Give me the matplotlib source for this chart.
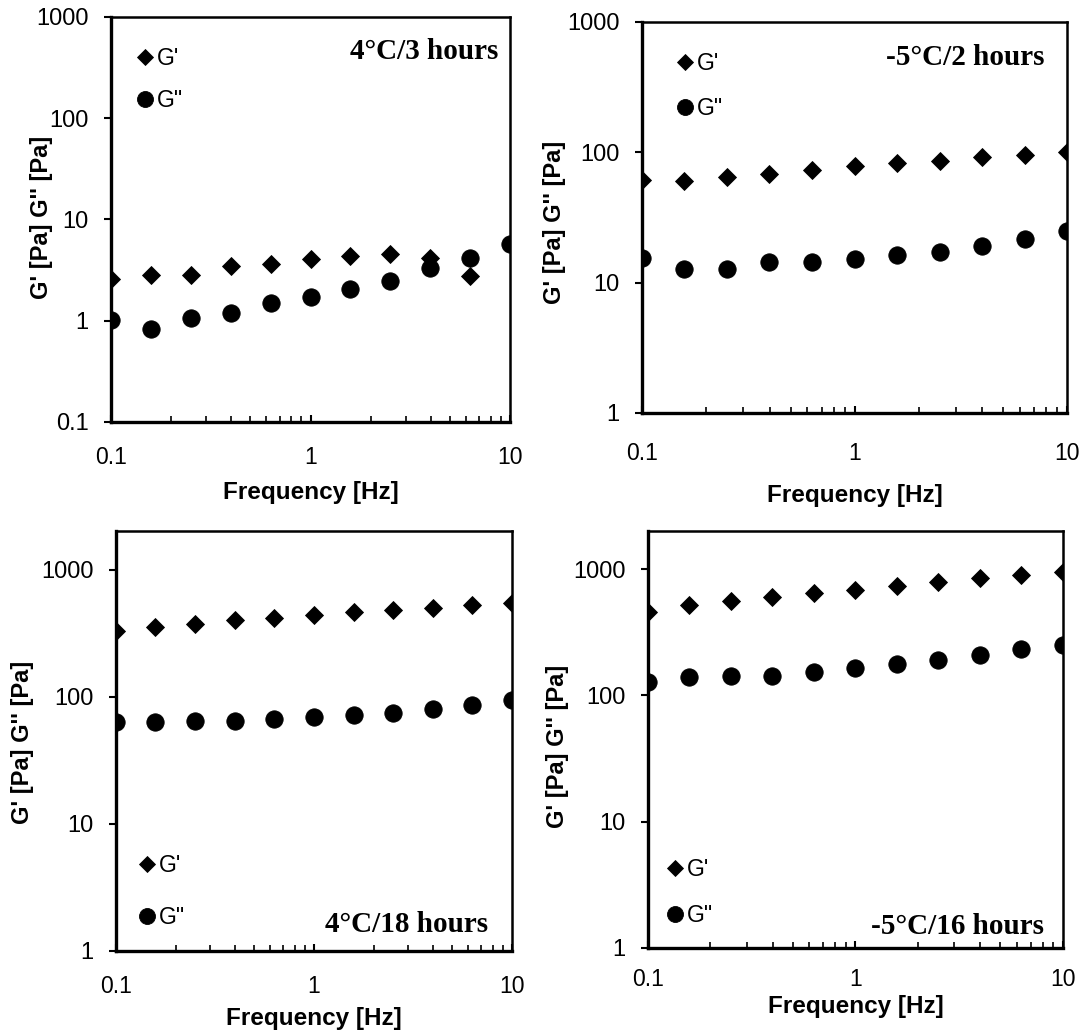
import numpy as np
import matplotlib
matplotlib.use("Agg")
import matplotlib.pyplot as plt
from matplotlib.ticker import FixedLocator, FixedFormatter, LogLocator, NullFormatter

# frequency sweep, 5 points per decade
freq = [0.1, 0.158, 0.251, 0.398, 0.631, 1.0, 1.585, 2.512, 3.981, 6.31, 10.0]

# 4C / 3 hours
g1_storage = [2.59, 2.80, 2.86, 3.47, 3.66, 4.10, 4.32, 4.53, 4.2, 2.74, np.nan]
g1_loss = [1.02, 0.83, 1.06, 1.19, 1.49, 1.73, 2.06, 2.46, 3.31, 4.16, 5.78]

# -5C / 2 hours
g2_storage = [61, 60, 64.6, 68.4, 73.4, 77.8, 82.5, 86.4, 91.6, 96, 100]
g2_loss = [15.4, 12.8, 12.8, 14.4, 14.4, 15.3, 16.3, 17.3, 19.2, 21.6, 25.1]

# 4C / 18 hours
g3_storage = [330, 351, 375, 399, 417, 438, 463, 477, 501, 527, 543]
g3_loss = [63.6, 62.8, 64.4, 64.4, 67.2, 68.9, 71.9, 74.2, 79.4, 86.5, 93.7]

# -5C / 16 hours
g4_storage = [459, 520, 564, 608, 647, 693, 738, 794, 856, 910, 957]
g4_loss = [129, 139, 143.5, 143.5, 153, 164, 178, 190, 208, 232, 251]

titles = ["4°C/3 hours", "-5°C/2 hours", "4°C/18 hours", "-5°C/16 hours"]
ylims = [(0.1, 1000), (1, 1000), (1, 2000), (1, 2000)]
yticks = [[0.1, 1, 10, 100, 1000], [1, 10, 100, 1000], [1, 10, 100, 1000], [1, 10, 100, 1000]]
ytick_labels = [["0.1", "1", "10", "100", "1000"], ["1", "10", "100", "1000"],
                ["1", "10", "100", "1000"], ["1", "10", "100", "1000"]]

storage = [g1_storage, g2_storage, g3_storage, g4_storage]
loss = [g1_loss, g2_loss, g3_loss, g4_loss]

# layout per panel
boxes = [[0.1027, 0.5923, 0.3691, 0.3913],
         [0.5939, 0.6010, 0.3932, 0.3778],
         [0.1073, 0.0812, 0.3663, 0.4054],
         [0.5994, 0.0844, 0.3839, 0.4021]]
legend_anchor = [(0.066, 0.846), (0.083, 0.836), (0.058, 0.141), (0.046, 0.132)]
legend_gap = [0.85, 0.98, 1.25, 1.0]
title_xy = [(0.972, 0.914), (0.946, 0.910), (0.939, 0.062), (0.954, 0.051)]
ylabel_x = [-0.175, -0.207, -0.236, -0.219]
ylabel_y = [0.506, 0.487, 0.498, 0.484]
xlabel_y = [-0.175, -0.21, -0.160, -0.142]
xtick_pad = [17, 21, 17, 15]

plt.rcParams['font.family'] = ['Liberation Sans', 'DejaVu Sans']

fig = plt.figure(figsize=(10.81, 10.35), dpi=100)

for i in range(4):
    ax = fig.add_axes(boxes[i])
    ax.plot(freq, storage[i], linestyle='none', marker='D', markersize=9.5,
            markeredgewidth=0.6, color='black', label="G'")
    ax.plot(freq, loss[i], linestyle='none', marker='o', markersize=12.5,
            markeredgewidth=0.6, color='black', label='G"')
    ax.set_xscale('log')
    ax.set_yscale('log')
    ax.set_xlim(0.1, 10)
    ax.set_ylim(*ylims[i])

    ax.xaxis.set_major_locator(FixedLocator([0.1, 1, 10]))
    ax.xaxis.set_major_formatter(FixedFormatter(["0.1", "1", "10"]))
    ax.xaxis.set_minor_locator(LogLocator(base=10, subs=np.arange(2, 10)))
    ax.xaxis.set_minor_formatter(NullFormatter())
    ax.yaxis.set_major_locator(FixedLocator(yticks[i]))
    ax.yaxis.set_major_formatter(FixedFormatter(ytick_labels[i]))
    ax.yaxis.set_minor_locator(FixedLocator([]))

    ax.tick_params(axis='x', which='major', direction='in', length=5, width=1.5,
                   labelsize=16.5, pad=xtick_pad[i])
    ax.tick_params(axis='x', which='minor', direction='in', length=4, width=1.2)
    ax.tick_params(axis='y', which='major', direction='out', length=5, width=1.5,
                   labelsize=17, pad=11)
    for side in ['left', 'bottom']:
        ax.spines[side].set_linewidth(2.4)
    for side in ['top', 'right']:
        ax.spines[side].set_linewidth(1.8)

    ax.set_xlabel("Frequency [Hz]", fontsize=17.5, fontweight='bold')
    ax.xaxis.set_label_coords(0.5, xlabel_y[i])
    ax.xaxis.label.set_va('center')
    ax.set_ylabel("G' [Pa] G'' [Pa]", fontsize=17, fontweight='bold')
    ax.yaxis.set_label_coords(ylabel_x[i], ylabel_y[i])
    ax.yaxis.label.set_va('center')

    leg = ax.legend(loc='center left', bbox_to_anchor=legend_anchor[i], frameon=False,
                    fontsize=16.5, handlelength=0.7, handletextpad=0.15,
                    labelspacing=legend_gap[i], borderpad=0, borderaxespad=0)
    leg.legend_handles[0].set_markersize(8.5)
    leg.legend_handles[1].set_markersize(11.5)

    tx, ty = title_xy[i]
    ax.text(tx, ty, titles[i], transform=ax.transAxes, ha='right', va='center',
            fontsize=21, fontweight='bold', family=['Liberation Serif', 'DejaVu Serif'])

fig.savefig("out.png", dpi=100)
